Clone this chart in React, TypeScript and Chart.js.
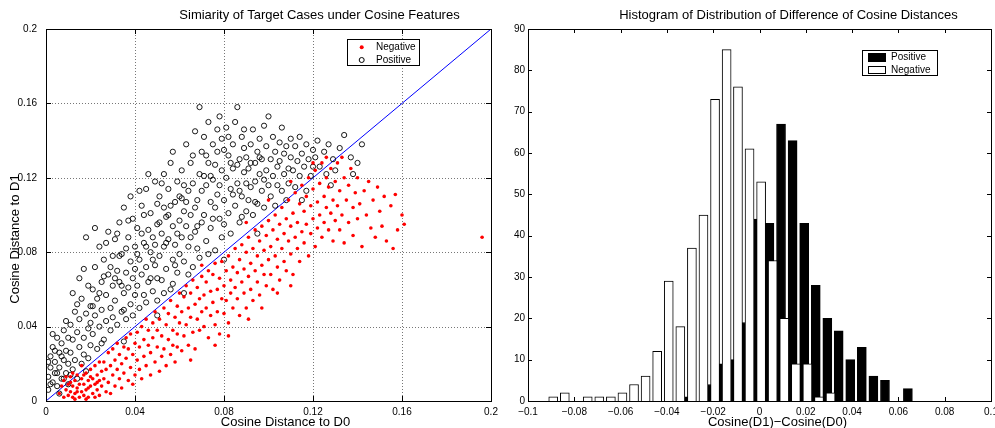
import React, { useEffect, useRef } from "react";
import { Chart, registerables } from "chart.js";
Chart.register(...registerables);

const FONT = '"Liberation Sans", Arial, Helvetica, sans-serif';

// ---------- Scatter data (Cosine Distance to D0, Cosine Distance to D1) ----------
const negativePoints: [number, number][] = [
  [0.006,0.004],[0.007,0.008],[0.008,0.002],[0.008,0.011],[0.009,0.006],[0.01,0.003],[0.01,0.009],[0.011,0.013],[0.011,0.005],[0.012,0.002],
  [0.012,0.008],[0.013,0.011],[0.013,0.004],[0.014,0.007],[0.014,0.014],[0.015,0.002],[0.015,0.009],[0.009,0.013],[0.012,0.015],[0.014,0.005],
  [0.013,0.001],[0.011,0.01],
  [0.016,0.005],[0.016,0.012],[0.017,0.003],[0.017,0.009],[0.018,0.015],[0.018,0.006],[0.019,0.011],[0.019,0.002],[0.02,0.008],[0.02,0.017],
  [0.021,0.004],[0.021,0.012],[0.022,0.009],[0.022,0.019],[0.023,0.006],[0.023,0.014],[0.024,0.003],[0.024,0.011],[0.025,0.016],[0.025,0.008],
  [0.016,0.019],[0.018,0.001],[0.02,0.013],[0.022,0.002],[0.024,0.021],[0.017,0.014],[0.019,0.007],[0.023,0.01],
  [0.026,0.012],[0.026,0.021],[0.027,0.005],[0.027,0.017],[0.028,0.026],[0.028,0.01],[0.029,0.019],[0.03,0.014],[0.03,0.028],[0.031,0.008],
  [0.031,0.022],[0.032,0.017],[0.032,0.031],[0.033,0.012],[0.033,0.025],[0.034,0.02],[0.035,0.029],[0.035,0.015],[0.036,0.034],[0.036,0.023],
  [0.037,0.011],[0.037,0.028],[0.038,0.018],[0.038,0.036],[0.039,0.025],[0.04,0.031],[0.04,0.014],[0.029,0.004],[0.034,0.007],[0.039,0.009],
  [0.041,0.022],[0.041,0.037],[0.042,0.017],[0.042,0.029],[0.043,0.04],[0.043,0.012],[0.044,0.033],[0.044,0.024],[0.045,0.044],[0.045,0.019],
  [0.046,0.03],[0.046,0.038],[0.047,0.014],[0.047,0.026],[0.048,0.042],[0.048,0.034],[0.049,0.021],[0.049,0.048],[0.05,0.029],[0.05,0.038],
  [0.051,0.016],[0.051,0.044],[0.052,0.024],[0.052,0.035],[0.053,0.05],[0.053,0.028],[0.054,0.041],[0.054,0.019],[0.055,0.033],[0.055,0.047],
  [0.056,0.025],[0.056,0.054],[0.057,0.038],[0.057,0.03],[0.058,0.045],[0.058,0.021],[0.059,0.051],[0.059,0.036],[0.06,0.042],[0.06,0.058],
  [0.061,0.027],[0.061,0.048],[0.062,0.035],[0.062,0.056],[0.063,0.041],[0.063,0.062],[0.064,0.03],[0.064,0.05],[0.065,0.045],[0.065,0.058],
  [0.066,0.037],[0.066,0.065],[0.067,0.052],[0.067,0.028],[0.068,0.044],[0.068,0.061],[0.069,0.055],[0.069,0.038],[0.07,0.067],[0.07,0.048],
  [0.059,0.029],[0.065,0.022],
  [0.071,0.057],[0.071,0.04],[0.072,0.064],[0.072,0.05],[0.073,0.034],[0.073,0.07],[0.074,0.046],[0.074,0.059],[0.075,0.053],[0.075,0.068],
  [0.076,0.041],[0.076,0.074],[0.077,0.06],[0.077,0.048],[0.078,0.066],[0.078,0.036],[0.079,0.055],[0.079,0.075],[0.08,0.062],[0.08,0.047],
  [0.081,0.07],[0.081,0.054],[0.082,0.078],[0.082,0.042],[0.083,0.065],[0.083,0.058],[0.084,0.072],[0.084,0.05],[0.085,0.082],[0.085,0.061],
  [0.076,0.03],[0.082,0.035],
  [0.086,0.069],[0.086,0.055],[0.087,0.076],[0.087,0.046],[0.088,0.084],[0.088,0.064],[0.089,0.071],[0.089,0.058],[0.09,0.08],[0.09,0.05],
  [0.091,0.067],[0.091,0.088],[0.092,0.074],[0.092,0.06],[0.093,0.082],[0.093,0.054],[0.094,0.07],[0.094,0.092],[0.095,0.078],[0.095,0.064],
  [0.096,0.086],[0.096,0.057],[0.097,0.073],[0.097,0.094],[0.098,0.068],[0.098,0.081],[0.099,0.062],[0.099,0.089],[0.1,0.076],[0.1,0.097],
  [0.091,0.044],[0.097,0.05],
  [0.101,0.083],[0.101,0.068],[0.102,0.092],[0.102,0.06],[0.103,0.078],[0.103,0.1],[0.104,0.087],[0.104,0.072],[0.105,0.095],[0.105,0.065],
  [0.106,0.082],[0.106,0.104],[0.107,0.075],[0.107,0.09],[0.108,0.098],[0.108,0.07],[0.109,0.086],[0.109,0.108],[0.11,0.079],[0.11,0.094],
  [0.111,0.101],[0.111,0.068],[0.112,0.088],[0.112,0.112],[0.113,0.082],[0.113,0.096],[0.114,0.106],[0.114,0.075],[0.115,0.091],[0.115,0.116],
  [0.104,0.058],[0.11,0.062],
  [0.116,0.085],[0.116,0.102],[0.117,0.095],[0.117,0.11],[0.118,0.078],[0.118,0.12],[0.119,0.09],[0.119,0.105],[0.12,0.098],[0.12,0.114],
  [0.121,0.083],[0.121,0.124],[0.122,0.093],[0.122,0.107],[0.123,0.1],[0.123,0.117],[0.124,0.088],[0.124,0.128],[0.125,0.096],[0.125,0.11],
  [0.126,0.104],[0.126,0.12],[0.127,0.092],[0.127,0.115],[0.128,0.101],[0.128,0.125],[0.129,0.086],[0.129,0.108],[0.13,0.097],[0.13,0.118],
  [0.131,0.105],[0.131,0.128],[0.132,0.092],[0.132,0.113],[0.133,0.1],[0.134,0.12],[0.134,0.085],[0.135,0.108],[0.136,0.116],[0.136,0.096],
  [0.137,0.125],[0.138,0.104],[0.138,0.089],[0.139,0.112],[0.14,0.098],[0.14,0.12],[0.141,0.106],[0.142,0.083],[0.143,0.113],[0.144,0.1],
  [0.145,0.118],[0.146,0.093],[0.147,0.108],[0.148,0.088],[0.149,0.115],[0.15,0.102],
  [0.151,0.094],[0.152,0.11],[0.153,0.086],[0.155,0.105],[0.157,0.111],[0.158,0.092],[0.16,0.1],[0.161,0.095],[0.156,0.082],[0.196,0.088],
  [0.1,0.108],[0.11,0.118],[0.12,0.128],[0.126,0.131],[0.133,0.131],[0.09,0.096],[0.07,0.073]
];

const positivePoints: [number, number][] = [
  [0.001,0.006],[0.001,0.013],[0.002,0.018],[0.002,0.024],[0.003,0.01],[0.003,0.029],[0.004,0.015],[0.004,0.021],[0.005,0.034],[0.005,0.008],
  [0.006,0.018],[0.006,0.026],[0.007,0.012],[0.007,0.031],[0.008,0.022],[0.008,0.038],[0.009,0.015],[0.009,0.027],[0.01,0.009],[0.01,0.034],
  [0.003,0.036],[0.006,0.004],[0.002,0.009],[0.008,0.012],[0.004,0.027],[0.009,0.043],[0.001,0.021],[0.007,0.024],[0.005,0.015],[0.01,0.02],
  [0.011,0.026],[0.011,0.041],[0.012,0.017],[0.012,0.033],[0.013,0.048],[0.013,0.022],[0.014,0.037],[0.014,0.012],[0.015,0.029],[0.015,0.044],
  [0.016,0.02],[0.016,0.055],[0.017,0.034],[0.017,0.025],[0.018,0.047],[0.018,0.016],[0.019,0.039],[0.019,0.062],[0.02,0.03],[0.02,0.051],
  [0.012,0.058],[0.015,0.066],[0.018,0.088],[0.014,0.052],[0.017,0.071],[0.02,0.042],[0.011,0.014],[0.019,0.023],
  [0.021,0.06],[0.021,0.036],[0.022,0.072],[0.022,0.046],[0.023,0.028],[0.023,0.055],[0.024,0.083],[0.024,0.04],[0.025,0.064],[0.025,0.049],
  [0.026,0.033],[0.026,0.076],[0.027,0.057],[0.027,0.043],[0.028,0.068],[0.028,0.091],[0.029,0.05],[0.029,0.038],[0.03,0.062],[0.03,0.078],
  [0.022,0.093],[0.025,0.031],[0.027,0.085],[0.03,0.045],[0.021,0.051],[0.026,0.067],[0.029,0.072],[0.024,0.058],
  [0.031,0.054],[0.031,0.087],[0.032,0.041],[0.032,0.07],[0.033,0.064],[0.033,0.096],[0.034,0.048],[0.034,0.079],[0.035,0.058],[0.035,0.104],
  [0.036,0.069],[0.036,0.044],[0.037,0.088],[0.037,0.061],[0.038,0.075],[0.038,0.052],[0.039,0.098],[0.039,0.066],[0.04,0.083],[0.04,0.057],
  [0.032,0.09],[0.034,0.062],[0.036,0.082],[0.038,0.11],[0.04,0.071],[0.033,0.078],[0.035,0.049],[0.037,0.097],[0.031,0.066],[0.039,0.046],
  [0.041,0.062],[0.041,0.093],[0.042,0.076],[0.042,0.05],[0.043,0.105],[0.043,0.068],[0.044,0.085],[0.044,0.057],[0.045,0.072],[0.045,0.114],
  [0.046,0.092],[0.046,0.064],[0.047,0.08],[0.047,0.101],[0.048,0.059],[0.048,0.088],[0.049,0.073],[0.049,0.118],[0.05,0.095],[0.05,0.066],
  [0.041,0.079],[0.043,0.09],[0.045,0.053],[0.047,0.066],[0.049,0.084],[0.044,0.1],[0.046,0.122],[0.048,0.076],[0.05,0.106],[0.042,0.113],
  [0.045,0.083],[0.05,0.054],
  [0.051,0.078],[0.051,0.11],[0.052,0.09],[0.052,0.065],[0.053,0.122],[0.053,0.083],[0.054,0.099],[0.054,0.071],[0.055,0.114],[0.055,0.087],
  [0.056,0.06],[0.056,0.128],[0.057,0.094],[0.057,0.076],[0.058,0.107],[0.058,0.084],[0.059,0.069],[0.059,0.118],[0.06,0.097],[0.06,0.079],
  [0.051,0.096],[0.053,0.058],[0.055,0.1],[0.057,0.134],[0.059,0.09],[0.052,0.117],[0.054,0.085],[0.056,0.105],[0.058,0.073],[0.06,0.11],
  [0.053,0.104],[0.057,0.063],
  [0.061,0.088],[0.061,0.124],[0.062,0.102],[0.062,0.075],[0.063,0.138],[0.063,0.094],[0.064,0.113],[0.064,0.083],[0.065,0.128],[0.065,0.1],
  [0.066,0.072],[0.066,0.117],[0.067,0.091],[0.067,0.145],[0.068,0.108],[0.068,0.082],[0.069,0.158],[0.069,0.122],[0.07,0.096],[0.07,0.134],
  [0.062,0.116],[0.064,0.068],[0.066,0.132],[0.068,0.094],[0.07,0.113],[0.063,0.107],[0.065,0.088],[0.067,0.104],[0.069,0.077],[0.061,0.109],
  [0.071,0.1],[0.071,0.142],[0.072,0.116],[0.072,0.086],[0.073,0.128],[0.073,0.15],[0.074,0.107],[0.074,0.093],[0.075,0.138],[0.075,0.119],
  [0.076,0.081],[0.076,0.127],[0.077,0.111],[0.077,0.146],[0.078,0.098],[0.078,0.153],[0.079,0.124],[0.079,0.088],[0.08,0.135],[0.08,0.108],
  [0.072,0.132],[0.074,0.121],[0.076,0.104],[0.078,0.116],[0.08,0.095],[0.073,0.079],[0.075,0.098],[0.077,0.134],[0.079,0.141],[0.071,0.121],
  [0.081,0.12],[0.081,0.147],[0.082,0.101],[0.082,0.132],[0.083,0.114],[0.083,0.09],[0.084,0.138],[0.084,0.125],[0.085,0.105],[0.085,0.15],
  [0.086,0.158],[0.086,0.117],[0.087,0.13],[0.087,0.096],[0.088,0.142],[0.088,0.11],[0.089,0.123],[0.089,0.136],[0.09,0.102],[0.09,0.117],
  [0.082,0.142],[0.084,0.111],[0.086,0.127],[0.088,0.099],[0.09,0.131],[0.083,0.128],[0.087,0.113],[0.089,0.146],
  [0.091,0.125],[0.091,0.108],[0.092,0.138],[0.092,0.115],[0.093,0.1],[0.093,0.146],[0.094,0.128],[0.094,0.118],[0.095,0.134],[0.095,0.106],
  [0.096,0.141],[0.096,0.122],[0.097,0.113],[0.097,0.13],[0.098,0.148],[0.098,0.104],[0.099,0.124],[0.099,0.137],[0.1,0.153],[0.1,0.116],
  [0.092,0.128],[0.094,0.107],[0.096,0.131],[0.098,0.119],
  [0.101,0.13],[0.101,0.11],[0.102,0.142],[0.102,0.121],[0.103,0.134],[0.103,0.105],[0.104,0.126],[0.104,0.116],[0.105,0.139],[0.105,0.129],
  [0.106,0.113],[0.106,0.147],[0.107,0.122],[0.107,0.133],[0.108,0.108],[0.108,0.137],[0.109,0.125],[0.109,0.117],[0.11,0.131],[0.11,0.141],
  [0.111,0.124],[0.112,0.137],[0.112,0.115],[0.113,0.129],[0.114,0.142],[0.114,0.121],[0.115,0.133],[0.116,0.126],[0.117,0.113],[0.117,0.138],
  [0.118,0.13],[0.119,0.121],[0.12,0.135],[0.12,0.126],
  [0.121,0.131],[0.122,0.14],[0.123,0.126],[0.125,0.134],[0.126,0.122],[0.127,0.138],[0.129,0.13],[0.13,0.124],[0.132,0.136],[0.134,0.143],
  [0.137,0.131],[0.14,0.128],
  [0.035,0.032],[0.05,0.046],[0.062,0.058],[0.08,0.076],[0.095,0.09],[0.115,0.108],[0.128,0.116],[0.138,0.122],[0.142,0.138]
];

const diagonalLine: [number, number][] = [[0, 0], [0.2, 0.2]];
const scatterTicks = [0, 0.04, 0.08, 0.12, 0.16, 0.2];

// ---------- Histogram data ----------
const negativeCenters = [
  -0.0891, -0.0841, -0.0791, -0.0742, -0.0692, -0.0642, -0.0592, -0.0542, -0.0492, -0.0442,
  -0.0392, -0.0342, -0.0292, -0.0242, -0.0192, -0.0142, -0.0093, -0.0043, 0.0007, 0.0057,
  0.0107, 0.0157, 0.0207, 0.0257, 0.0307
];
const negativeCounts = [1, 2, 0, 1, 1, 1, 2, 4, 6, 12, 29, 18, 37, 45, 73, 85, 76, 61, 53, 34, 20, 9, 9, 1, 2];

const positiveCenters = [
  -0.0306, -0.0256, -0.0206, -0.0156, -0.0106, -0.0056, -0.0007, 0.0043, 0.0093, 0.0143,
  0.0193, 0.0243, 0.0293, 0.0342, 0.0392, 0.0442, 0.0492, 0.0542, 0.0591, 0.0641
];
const positiveCounts = [1, 0, 4, 9, 10, 19, 44, 43, 67, 63, 43, 28, 20, 17, 10, 13, 6, 5, 0, 3];

const histXTicks = [-0.1, -0.08, -0.06, -0.04, -0.02, 0, 0.02, 0.04, 0.06, 0.08, 0.1];
const histYTicks = [0, 10, 20, 30, 40, 50, 60, 70, 80, 90];

// ---------- helpers ----------
const fmt = (v: number) => {
  const r = Math.round(v * 1000) / 1000;
  return String(r).replace("-", "\u2212");
};

function line(ctx: CanvasRenderingContext2D, x1: number, y1: number, x2: number, y2: number) {
  ctx.beginPath();
  ctx.moveTo(x1, y1);
  ctx.lineTo(x2, y2);
  ctx.stroke();
}

function drawTickMarks(chart: any, xt: number[], yt: number[], len: number) {
  const { ctx, chartArea: a, scales } = chart;
  ctx.save();
  ctx.strokeStyle = "#000";
  ctx.lineWidth = 1;
  for (const t of xt) {
    const px = Math.round(scales.x.getPixelForValue(t)) + 0.5;
    line(ctx, px, a.bottom, px, a.bottom - len);
    line(ctx, px, a.top, px, a.top + len);
  }
  for (const t of yt) {
    const py = Math.round(scales.y.getPixelForValue(t)) + 0.5;
    line(ctx, a.left, py, a.left + len, py);
    line(ctx, a.right, py, a.right - len, py);
  }
  ctx.restore();
}

function drawFrame(chart: any) {
  const { ctx, chartArea: a } = chart;
  ctx.save();
  ctx.strokeStyle = "#000";
  ctx.lineWidth = 1;
  ctx.strokeRect(Math.round(a.left) + 0.5, Math.round(a.top) + 0.5, Math.round(a.right - a.left), Math.round(a.bottom - a.top));
  ctx.restore();
}

function drawText(ctx: CanvasRenderingContext2D, text: string, x: number, y: number, size: number, rotate = false, align: CanvasTextAlign = "center") {
  ctx.save();
  ctx.fillStyle = "#000";
  ctx.font = `${size}px ${FONT}`;
  ctx.textAlign = align;
  ctx.textBaseline = "middle";
  ctx.translate(x, y);
  if (rotate) ctx.rotate(-Math.PI / 2);
  ctx.fillText(text, 0, 0);
  ctx.restore();
}

const scatterDecor = {
  id: "scatterDecor",
  beforeDatasetsDraw(chart: any) {
    const { ctx, chartArea: a, scales } = chart;
    ctx.save();
    ctx.strokeStyle = "#777";
    ctx.lineWidth = 1;
    ctx.setLineDash([1, 2]);
    for (const t of scatterTicks) {
      if (t <= 0 || t >= 0.2) continue;
      const px = Math.round(scales.x.getPixelForValue(t)) + 0.5;
      line(ctx, px, a.top, px, a.bottom);
      const py = Math.round(scales.y.getPixelForValue(t)) + 0.5;
      line(ctx, a.left, py, a.right, py);
    }
    ctx.restore();
    drawTickMarks(chart, scatterTicks, scatterTicks, 5);
  },
  afterDatasetsDraw(chart: any) {
    const { ctx, chartArea: a } = chart;
    drawFrame(chart);
    const cx = (a.left + a.right) / 2;
    const cy = (a.top + a.bottom) / 2;
    drawText(ctx, "Simiarity of Target Cases under Cosine Features", cx + 51, 15, 13);
    drawText(ctx, "Cosine Distance to D0", cx + 17, 422.5, 13);
    drawText(ctx, "Cosine Distance to D1", 15, cy + 24, 13, true);
    // legend
    ctx.save();
    ctx.fillStyle = "#fff";
    ctx.fillRect(347.5, 39.5, 72, 26);
    ctx.strokeStyle = "#000";
    ctx.lineWidth = 1;
    ctx.strokeRect(347.5, 39.5, 72, 26);
    ctx.fillStyle = "#ff0000";
    ctx.beginPath();
    ctx.arc(361.7, 47.3, 2, 0, Math.PI * 2);
    ctx.fill();
    ctx.beginPath();
    ctx.arc(361.7, 60, 2.5, 0, Math.PI * 2);
    ctx.stroke();
    ctx.restore();
    drawText(ctx, "Negative", 376, 47.5, 10, false, "left");
    drawText(ctx, "Positive", 376, 60, 10, false, "left");
  },
};

const histDecor = {
  id: "histDecor",
  beforeDatasetsDraw(chart: any) {
    drawTickMarks(chart, histXTicks, histYTicks, 4);
  },
  afterDatasetsDraw(chart: any) {
    const { ctx, chartArea: a } = chart;
    drawFrame(chart);
    const cx = (a.left + a.right) / 2;
    drawText(ctx, "Histogram of Distribution of Difference of Cosine Distances", cx + 29, 15, 13);
    drawText(ctx, "Cosine(D1)\u2212Cosine(D0)", cx + 18, 422.5, 13);
    ctx.save();
    ctx.fillStyle = "#fff";
    ctx.fillRect(367.5, 50.5, 75, 25);
    ctx.strokeStyle = "#000";
    ctx.lineWidth = 1;
    ctx.strokeRect(367.5, 50.5, 75, 25);
    ctx.fillStyle = "#000";
    ctx.fillRect(373, 53, 18, 9);
    ctx.strokeRect(373.5, 66.5, 17, 7);
    ctx.restore();
    drawText(ctx, "Positive", 396, 57, 10, false, "left");
    drawText(ctx, "Negative", 396, 70, 10, false, "left");
  },
};

const fixPad = (s: any) => {
  s.paddingLeft = 0;
  s.paddingRight = 0;
  s.paddingTop = 0;
  s.paddingBottom = 0;
};

export default function App() {
  const leftRef = useRef<HTMLCanvasElement>(null);
  const rightRef = useRef<HTMLCanvasElement>(null);

  useEffect(() => {
    const tickFont = { family: FONT, size: 10 };
    const noGrid = { display: false, drawTicks: false };
    const left = new Chart(leftRef.current as HTMLCanvasElement, {
      type: "scatter",
      data: {
        datasets: [
          {
            type: "line",
            label: "diag",
            data: diagonalLine.map(([x, y]) => ({ x, y })),
            borderColor: "#0000ff",
            borderWidth: 1,
            pointRadius: 0,
            order: 2,
          } as any,
          {
            label: "Negative",
            data: negativePoints.map(([x, y]) => ({ x, y })),
            backgroundColor: "#ff0000",
            borderWidth: 0,
            pointRadius: 1.8,
            order: 0,
          },
          {
            label: "Positive",
            data: positivePoints.map(([x, y]) => ({ x, y })),
            backgroundColor: "rgba(0,0,0,0)",
            borderColor: "#000",
            borderWidth: 0.9,
            pointRadius: 2.6,
            order: 1,
          },
        ],
      },
      options: {
        animation: false,
        responsive: false,
        events: [],
        layout: { padding: { left: 0, right: 19, top: 29, bottom: 0 } },
        plugins: { legend: { display: false }, title: { display: false }, tooltip: { enabled: false } },
        scales: {
          x: {
            type: "linear",
            min: 0,
            max: 0.2,
            grid: noGrid,
            border: { display: false },
            afterBuildTicks: (s: any) => { s.ticks = scatterTicks.map((value) => ({ value })); },
            afterFit: (s: any) => { s.height = 27; fixPad(s); },
            ticks: { font: tickFont, color: "#000", padding: 5, maxRotation: 0, autoSkip: false, callback: (v: any) => fmt(Number(v)) },
          },
          y: {
            type: "linear",
            min: 0,
            max: 0.2,
            grid: noGrid,
            border: { display: false },
            afterBuildTicks: (s: any) => { s.ticks = scatterTicks.map((value) => ({ value })); },
            afterFit: (s: any) => { s.width = 46; fixPad(s); },
            ticks: { font: tickFont, color: "#000", padding: 9, autoSkip: false, callback: (v: any) => fmt(Number(v)) },
          },
        },
      } as any,
      plugins: [scatterDecor],
    });

    const right = new Chart(rightRef.current as HTMLCanvasElement, {
      type: "bar",
      data: {
        datasets: [
          {
            label: "Positive",
            data: positiveCenters.map((x, i) => ({ x, y: positiveCounts[i] })),
            backgroundColor: "#000",
            borderColor: "#000",
            borderWidth: 1,
            barThickness: 9,
            grouped: false,
            order: 1,
          } as any,
          {
            label: "Negative",
            data: negativeCenters.map((x, i) => ({ x, y: negativeCounts[i] })),
            backgroundColor: "#fff",
            borderColor: "#000",
            borderWidth: 1,
            barThickness: 9,
            grouped: false,
            order: 0,
          } as any,
        ],
      },
      options: {
        animation: false,
        responsive: false,
        events: [],
        layout: { padding: { left: 0, right: 4, top: 29, bottom: 0 } },
        plugins: { legend: { display: false }, title: { display: false }, tooltip: { enabled: false } },
        scales: {
          x: {
            type: "linear",
            min: -0.1,
            max: 0.1,
            offset: false,
            grid: noGrid,
            border: { display: false },
            afterBuildTicks: (s: any) => { s.ticks = histXTicks.map((value) => ({ value })); },
            afterFit: (s: any) => { s.height = 27; fixPad(s); },
            ticks: { font: tickFont, color: "#000", padding: 5, maxRotation: 0, autoSkip: false, callback: (v: any) => fmt(Number(v)) },
          },
          y: {
            type: "linear",
            min: 0,
            max: 90,
            grid: noGrid,
            border: { display: false },
            afterBuildTicks: (s: any) => { s.ticks = histYTicks.map((value) => ({ value })); },
            afterFit: (s: any) => { s.width = 33; fixPad(s); },
            ticks: { font: tickFont, color: "#000", padding: 3, autoSkip: false, callback: (v: any) => String(v) },
          },
        },
      } as any,
      plugins: [histDecor],
    });

    return () => {
      left.destroy();
      right.destroy();
    };
  }, []);

  return (
    <div style={{ position: "fixed", left: 0, top: 0, width: 995, height: 428, overflow: "hidden", background: "#fff" }}>
      <canvas ref={leftRef} width={510} height={428} style={{ position: "absolute", left: 0, top: 0 }} />
      <canvas ref={rightRef} width={500} height={428} style={{ position: "absolute", left: 495, top: 0 }} />
    </div>
  );
}
